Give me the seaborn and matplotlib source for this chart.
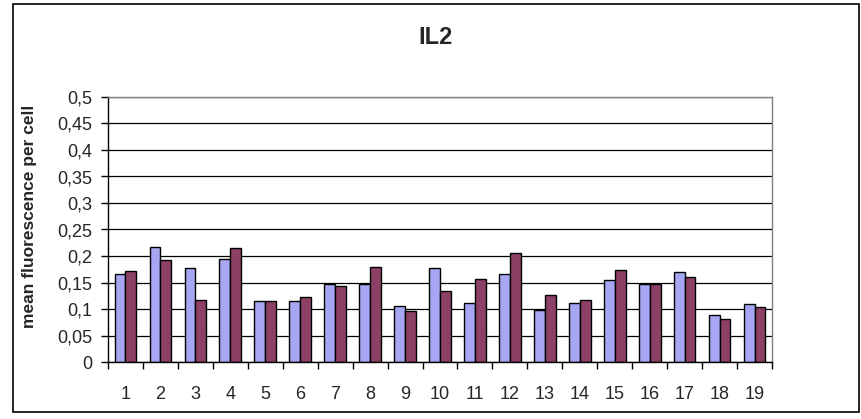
import pandas as pd
import matplotlib.pyplot as plt
import seaborn as sns
from matplotlib.patches import Rectangle
from matplotlib.ticker import FixedLocator

# Values
samples = [str(i) for i in range(1, 20)]
series_a = [0.166, 0.217, 0.177, 0.194, 0.115, 0.115, 0.148, 0.148, 0.106, 0.177,
            0.112, 0.166, 0.098, 0.112, 0.154, 0.148, 0.169, 0.089, 0.109]
series_b = [0.172, 0.192, 0.117, 0.215, 0.115, 0.123, 0.143, 0.180, 0.097, 0.134,
            0.157, 0.206, 0.126, 0.117, 0.174, 0.148, 0.160, 0.081, 0.103]
y_ticks = [0, 0.05, 0.1, 0.15, 0.2, 0.25, 0.3, 0.35, 0.4, 0.45, 0.5]

df = pd.DataFrame({
    'sample': samples * 2,
    'value': series_a + series_b,
    'series': ['A'] * len(samples) + ['B'] * len(samples),
})

sns.set_style('white')
plt.rcParams['font.family'] = ['Liberation Sans', 'DejaVu Sans']

fig = plt.figure(figsize=(8.62, 4.19), dpi=100)
ax = fig.add_axes([108 / 862, 57 / 419, 664 / 862, 265 / 419])

# outer chart border
fig.patches.append(Rectangle((13 / 862, 7 / 419), 846 / 862, 408 / 419,
                             transform=fig.transFigure, fill=False,
                             edgecolor='black', linewidth=1.2))

sns.barplot(
    data=df, x='sample', y='value', hue='series',
    palette=['#9999FF', '#993366'], width=0.62,
    edgecolor='black', linewidth=1, ax=ax, legend=False,
)

ax.set_ylim(0, 0.5)
ax.set_xlim(-0.5, len(samples) - 0.5)
ax.set_yticks(y_ticks)
ax.set_yticklabels([('%g' % t).replace('.', ',') for t in y_ticks])
ax.yaxis.grid(True, color='black', linewidth=0.9)
ax.set_axisbelow(True)

# Excel-style ticks between categories
ax.xaxis.set_minor_locator(FixedLocator([i - 0.5 for i in range(len(samples) + 1)]))
ax.tick_params(axis='x', which='major', length=0, labelsize=13, pad=17)
ax.tick_params(axis='x', which='minor', length=5, width=1, color='black', bottom=True)
ax.tick_params(axis='y', length=5, width=1, color='black', left=True, labelsize=13, pad=6)

for side in ['top', 'right']:
    ax.spines[side].set_color('#808080')
for side in ['left', 'bottom']:
    ax.spines[side].set_color('black')
for side in ax.spines:
    ax.spines[side].set_linewidth(1)

ax.set_xlabel('')
ax.set_ylabel('')
fig.text(30 / 862, 1 - 216 / 419, 'mean fluorescence per cell', rotation=90,
         ha='center', va='center', fontsize=12.5, fontweight='bold')
fig.text(436 / 862, 1 - 37 / 419, 'IL2', ha='center', va='center',
         fontsize=17, fontweight='bold')

fig.savefig('out.png', dpi=100)
